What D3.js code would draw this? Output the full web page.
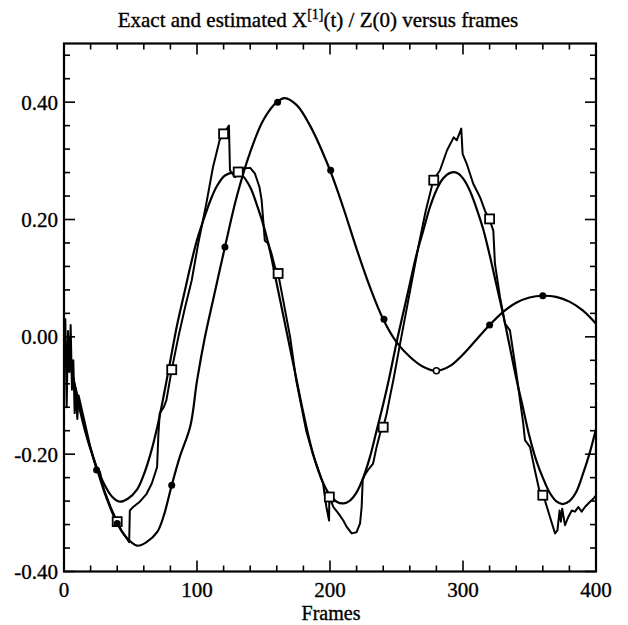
<!DOCTYPE html>
<html><head><meta charset="utf-8">
<script src="https://cdn.jsdelivr.net/npm/d3@7"></script>
<style>
html,body{margin:0;padding:0;background:#fff;}
</style></head>
<body><svg id="c" width="628" height="625"></svg>
<script>
// ---- data ----
const smoothFrames = [0,5,10,15,20,25,30,36,42,48,55,60,65,70,75,80,85,90,95,100,105,110,115,121,128,134,140,145,150,155,160,165,170,175,180,185,190,195,200,205,210,215,220,225,230,235,240,245,250,255,260,265,270,275,280,285,291,296,300,305,310,315,320,325,330,335,340,345,350,355,360,365,370,375,380,385,390,395,400];
const smoothValues = [0.00,-0.05,-0.10,-0.15,-0.19,-0.225,-0.25,-0.272,-0.281,-0.276,-0.26,-0.235,-0.20,-0.155,-0.10,-0.04,0.02,0.07,0.12,0.165,0.20,0.232,0.257,0.275,0.28,0.275,0.255,0.225,0.19,0.145,0.09,0.035,-0.02,-0.075,-0.13,-0.18,-0.22,-0.25,-0.27,-0.281,-0.284,-0.279,-0.265,-0.24,-0.205,-0.16,-0.115,-0.065,-0.01,0.04,0.09,0.14,0.18,0.22,0.25,0.27,0.28,0.279,0.27,0.25,0.22,0.185,0.14,0.09,0.04,-0.015,-0.07,-0.12,-0.17,-0.21,-0.24,-0.265,-0.28,-0.285,-0.28,-0.265,-0.235,-0.2,-0.157];

const circleFrames = [0,5,10,17,25,32,40,47,55,62,70,75,81,87,95,100,106,112,121,130,140,150,160,166,175,185,200,210,220,230,240,250,260,270,280,290,300,310,320,330,340,350,360,370,380,390,400];
const circleValues = [0.00,-0.05,-0.105,-0.17,-0.227,-0.275,-0.318,-0.342,-0.356,-0.35,-0.333,-0.305,-0.253,-0.205,-0.152,-0.075,0.0,0.062,0.153,0.24,0.315,0.37,0.40,0.407,0.395,0.36,0.284,0.22,0.15,0.085,0.03,-0.009,-0.034,-0.051,-0.058,-0.05,-0.03,-0.005,0.02,0.042,0.058,0.067,0.07,0.068,0.06,0.045,0.0225];

const noisyFrames = [0,1,2,3,4,5,6,7,8,9,10,11,13,16,20,24,27,30,35,40,43,46,49,49.5,52,57,62,66,70,71,72,75,77,81,86,91,96,101,107,112,117,120,124,124.8,128.6,131,133.5,140,143.6,147,148.6,149.8,151,153.6,156,158.6,161,165,170,174.6,182,187,191,194.8,197.3,199.3,199.5,202.5,206.3,210,212.6,216.3,220,222.6,223.8,224.6,226,228.6,232.4,235,237.6,240,242.6,245,247.6,252,257,262,267,272,277.7,282.7,288,293,295.3,298.7,299.7,302.8,307.7,312.8,316.5,319.8,322.8,324,327.8,331.6,335.3,340,345.3,346.6,350.4,354,357.9,361.6,365.4,369.2,371,372.6,373.6,374.6,376.7,379.2,381.8,384.2,386.7,389.2,391.7,395.5,398,400];
const noisyValues = [0.02,0.03,-0.12,0.01,-0.06,0.02,-0.09,-0.04,-0.13,-0.09,-0.14,-0.10,-0.12,-0.15,-0.19,-0.222,-0.23,-0.26,-0.29,-0.315,-0.33,-0.34,-0.35,-0.296,-0.29,-0.281,-0.268,-0.25,-0.222,-0.165,-0.13,-0.12,-0.108,-0.056,0.0,0.05,0.096,0.16,0.227,0.289,0.335,0.346,0.36,0.284,0.272,0.281,0.287,0.288,0.278,0.255,0.233,0.198,0.164,0.159,0.142,0.119,0.108,0.06,0.0,-0.074,-0.159,-0.199,-0.225,-0.25,-0.29,-0.313,-0.273,-0.29,-0.301,-0.313,-0.324,-0.335,-0.333,-0.318,-0.29,-0.244,-0.236,-0.227,-0.216,-0.188,-0.165,-0.154,-0.131,-0.103,-0.074,-0.02,0.04,0.1,0.16,0.215,0.267,0.284,0.318,0.34,0.335,0.355,0.312,0.295,0.261,0.238,0.215,0.201,0.181,0.125,0.068,0.0225,0.011,-0.06,-0.148,-0.176,-0.188,-0.227,-0.267,-0.279,-0.307,-0.335,-0.33,-0.296,-0.315,-0.293,-0.321,-0.307,-0.296,-0.298,-0.29,-0.298,-0.29,-0.281,-0.276,-0.27];

const squareFrames = [40,81,120,131,161,199.5,240,278,320,360];
const squareValues = [-0.315,-0.056,0.346,0.281,0.108,-0.273,-0.154,0.267,0.201,-0.27];

const dotFrames = [24.5,40,81,121,160.6,200.5,240.6,320,360];
const dotValues = [-0.227,-0.318,-0.253,0.153,0.40,0.284,0.03,0.02,0.07];
const openDotFrames = [280];
const openDotValues = [-0.058];

const xTickLabels = [0,100,200,300,400];
const yTickLabels = [0.40,0.20,0.00,-0.20,-0.40];
const titleMain = "Exact and estimated X";
const titleSup = "[1]";
const titleRest = "(t) / Z(0) versus frames";
const xTitle = "Frames";

// ---- chart ----
const FONT = "Liberation Serif, Times New Roman, serif";
const svg = d3.select("#c");
const L = 64, R = 596, T = 43.5, B = 571.5;
const x = d3.scaleLinear().domain([0,400]).range([L,R]);
const y = d3.scaleLinear().domain([-0.4,0.5]).range([B,T]);

const g = svg.append("g");
function zip(a,b){return a.map((v,i)=>[v,b[i]]);}

const smoothLine = d3.line().x(d=>x(d[0])).y(d=>y(d[1])).curve(d3.curveCatmullRom.alpha(0.5));
const linLine = d3.line().x(d=>x(d[0])).y(d=>y(d[1]));

g.append("path").attr("d", smoothLine(zip(smoothFrames,smoothValues)))
 .attr("fill","none").attr("stroke","#000").attr("stroke-width",2.2);
g.append("path").attr("d", smoothLine(zip(circleFrames,circleValues)))
 .attr("fill","none").attr("stroke","#000").attr("stroke-width",2.2);
g.append("path").attr("d", linLine(zip(noisyFrames,noisyValues)))
 .attr("fill","none").attr("stroke","#000").attr("stroke-width",2).attr("stroke-linejoin","round");

g.selectAll("rect.sq").data(zip(squareFrames,squareValues)).enter().append("rect")
 .attr("x",d=>x(d[0])-4.5).attr("y",d=>y(d[1])-4.5).attr("width",9).attr("height",9)
 .attr("fill","#fff").attr("stroke","#000").attr("stroke-width",1.8);
g.selectAll("circle.dot").data(zip(dotFrames,dotValues)).enter().append("circle")
 .attr("cx",d=>x(d[0])).attr("cy",d=>y(d[1])).attr("r",3.5).attr("fill","#000");
g.selectAll("circle.odot").data(zip(openDotFrames,openDotValues)).enter().append("circle")
 .attr("cx",d=>x(d[0])).attr("cy",d=>y(d[1])).attr("r",3).attr("fill","#fff").attr("stroke","#000").attr("stroke-width",1.5);

// frame
svg.append("rect").attr("x",L).attr("y",T).attr("width",R-L).attr("height",B-T)
 .attr("fill","none").attr("stroke","#000").attr("stroke-width",2.2);

// ticks
const xMinor = d3.range(0,401,20);
const yMinor = d3.range(-40,49,4).map(v=>v/100);
const tk = svg.append("g").attr("stroke","#000").attr("stroke-width",1.6);
xMinor.forEach(v=>{
  const major = v%100===0; const len = major?11:6;
  tk.append("line").attr("x1",x(v)).attr("x2",x(v)).attr("y1",B).attr("y2",B-len);
  tk.append("line").attr("x1",x(v)).attr("x2",x(v)).attr("y1",T).attr("y2",T+len);
});
yMinor.forEach(v=>{
  const major = Math.abs(Math.round(v*100))%20===0; const len = major?11:6;
  tk.append("line").attr("y1",y(v)).attr("y2",y(v)).attr("x1",L).attr("x2",L+len);
  tk.append("line").attr("y1",y(v)).attr("y2",y(v)).attr("x1",R).attr("x2",R-len);
});

// labels
function txt(sel){return sel.attr("font-family",FONT).attr("fill","#000").attr("stroke","#000").attr("stroke-width",0.35);}
txt(svg.selectAll("text.yl").data(yTickLabels).enter().append("text")
 .attr("x",L-6).attr("y",d=>y(d)).attr("dy","0.35em").attr("text-anchor","end")
 .attr("font-size",21).text(d=>d.toFixed(2)));
txt(svg.selectAll("text.xl").data(xTickLabels).enter().append("text")
 .attr("x",d=>x(d)).attr("y",B+25.5).attr("text-anchor","middle")
 .attr("font-size",21).text(d=>d));
txt(svg.append("text").attr("x",331).attr("y",B+48.5).attr("text-anchor","middle")
 .attr("font-size",20).text(xTitle));
const t = txt(svg.append("text").attr("x",318).attr("y",27).attr("text-anchor","middle").attr("font-size",21));
t.append("tspan").text(titleMain);
t.append("tspan").attr("font-size",14).attr("dy",-8).text(titleSup);
t.append("tspan").attr("dy",8).text(titleRest);
</script></body></html>
